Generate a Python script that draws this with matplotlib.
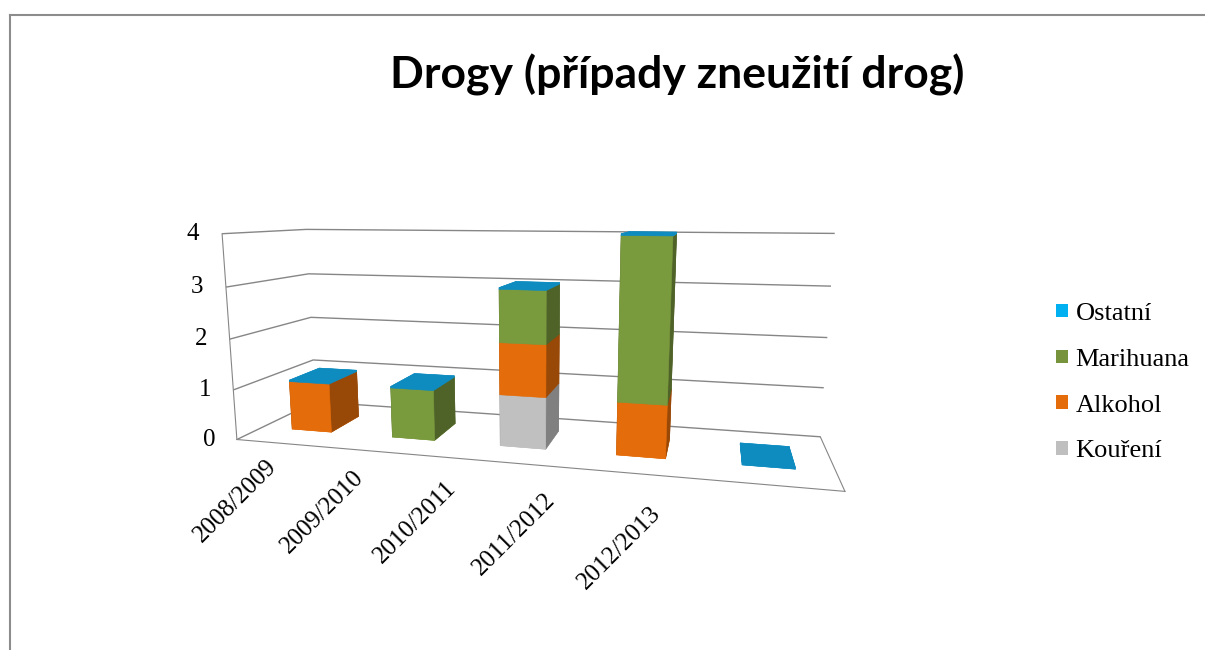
import numpy as np
import matplotlib.pyplot as plt
from matplotlib.patches import Patch
from matplotlib.lines import Line2D
from mpl_toolkits.mplot3d import proj3d

# Data
# ----
years = ['2008/2009', '2009/2010', '2010/2011', '2011/2012', '2012/2013']
koureni = [0, 0, 1, 0, 0]
alkohol = [1, 0, 1, 1, 0]
marihuana = [0, 1, 1, 3, 0]
ostatni = [0, 0, 0, 0, 0]

# stacking order bottom -> top
series_names = ['Kouření', 'Alkohol', 'Marihuana', 'Ostatní']
series_values = [koureni, alkohol, marihuana, ostatni]
legend_colors = ['#BFBFBF', '#E46C0A', '#77933C', '#00B0F0']
front_colors = ['#C0C0C0', '#E46C0A', '#7A9A3E', '#0E8CC0']
side_colors = ['#808080', '#984807', '#4F6228', '#0E8CC0']

bar_w = 0.4
bar_d = 0.4
min_dz = 0.03  # zero-height layer still shows its top face

fig = plt.figure(figsize=(12.05, 6.5), dpi=100)
ax = fig.add_axes([0.065, 0.12, 0.74, 0.70], projection='3d')

# Build the stacked boxes
xs, ys, zs, dzs, face_cols = [], [], [], [], []
for i in range(len(years)):
    bottom = 0
    for k, vals in enumerate(series_values):
        v = vals[i]
        if v == 0 and series_names[k] != 'Ostatní':
            continue
        xs.append(i - bar_w / 2)
        ys.append(0.5 - bar_d / 2)
        zs.append(bottom)
        dzs.append(max(v, min_dz))
        f, s = front_colors[k], side_colors[k]
        # faces: bottom, top, front(-y), back(+y), left(-x), right(+x)
        face_cols += [f, f, f, s, s, s]
        bottom += v

bars = ax.bar3d(xs, ys, zs, bar_w, bar_d, dzs, color=face_cols, shade=False,
                edgecolor=face_cols, linewidth=0.4)
bars.set_clip_on(False)  # 3d axes patch is square, don't cut the right bars

ax.set_xlim(-0.5, len(years) - 0.5)
ax.set_ylim(0, 1)
ax.set_zlim(0, 4)
ax.set_box_aspect((3.2, 0.85, 1.15), zoom=1.35)
ax.view_init(elev=10, azim=-76)
ax.set_proj_type('persp', focal_length=0.3)

# Walls and floor
gray = '#868686'
ax.xaxis.set_pane_color((1, 1, 1, 1))
ax.yaxis.set_pane_color((1, 1, 1, 1))
ax.zaxis.set_pane_color((1, 1, 1, 0))
ax.xaxis.pane.set_edgecolor('none')
ax.yaxis.pane.set_edgecolor('none')
ax.zaxis.pane.set_edgecolor(gray)
for axis in (ax.xaxis, ax.yaxis, ax.zaxis):
    axis.line.set_color(gray)
    axis._axinfo['tick']['inward_factor'] = 0
    axis._axinfo['tick']['outward_factor'] = 0
ax.zaxis.set_ticks_position('lower')
ax.grid(True)
ax.zaxis._axinfo['grid'].update(color=gray, linewidth=1.0, linestyle='-')
ax.xaxis._axinfo['grid'].update(color=(1, 1, 1, 0), linewidth=0)
ax.yaxis._axinfo['grid'].update(color=(1, 1, 1, 0), linewidth=0)

serif = ['Liberation Serif', 'DejaVu Serif']
ax.set_xticks([])
ax.set_yticks([])
ax.set_zticks([0, 1, 2, 3, 4])
ax.set_zticklabels(['0', '1', '2', '3', '4'], family=serif, fontsize=18,
                   va='center', ha='center')
ax.zaxis.set_tick_params(pad=0)

# Category labels sit under the front edge, a bit tighter than the bars
# (Excel places them that way). Project the 3d anchor, then draw rotated 2d text.
M = ax.get_proj()
for i, year in enumerate(years):
    lx, ly, _ = proj3d.proj_transform(i * 0.83 - 0.15, 0, -0.42 - 0.05 * i, M)
    ax.text2D(lx, ly, year, transform=ax.transData, rotation=45, ha='right',
              va='center', rotation_mode='anchor', family=serif, fontsize=18,
              clip_on=False)

# Title and legend
fig.text(0.562, 0.885, 'Drogy (případy zneužití drog)', ha='center', va='center',
         fontsize=32, fontweight='bold', family=['Lato', 'DejaVu Sans'])

handles = [Patch(facecolor=legend_colors[k], edgecolor='none')
           for k in range(len(series_names) - 1, -1, -1)]
labels = series_names[::-1]
fig.legend(handles, labels, loc='upper left', bbox_to_anchor=(0.868, 0.55),
           frameon=False, prop={'family': serif, 'size': 19},
           handlelength=0.42, handleheight=0.42, handletextpad=0.3,
           labelspacing=0.9, borderaxespad=0)

# chart frame (cropped at right and bottom)
fig.add_artist(Line2D([10 / 1205, 1], [1 - 15 / 650] * 2,
                      transform=fig.transFigure, color='#8C8C8C', lw=1.5))
fig.add_artist(Line2D([10 / 1205] * 2, [0, 1 - 15 / 650],
                      transform=fig.transFigure, color='#8C8C8C', lw=1.5))

plt.savefig('out.png', dpi=100)
